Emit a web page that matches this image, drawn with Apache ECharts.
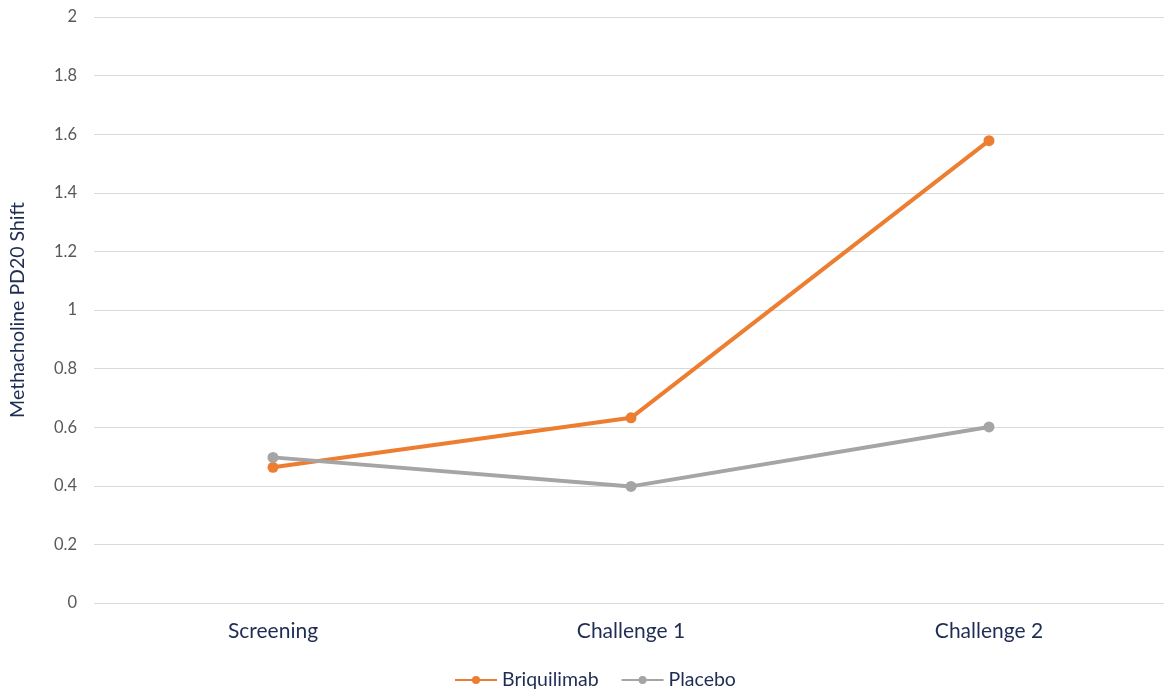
<!DOCTYPE html>
<html><head><meta charset="utf-8">
<script src="https://cdn.jsdelivr.net/npm/echarts@6/dist/echarts.min.js"></script>
<style>html,body{margin:0;padding:0;background:#fff}#c{width:1164px;height:690px}</style>
</head><body><div id="c"></div>
<script>
const categories = ['Screening', 'Challenge 1', 'Challenge 2'];
const briquilimab = [0.463, 0.632, 1.578];
const placebo = [0.497, 0.398, 0.601];
const yTicks = {min: 0, max: 2, interval: 0.2};

const chart = echarts.init(document.getElementById('c'));
const font = 'Lato, "Open Sans", sans-serif';
chart.setOption({
  animation: false,
  textStyle: {fontFamily: font},
  grid: {left: 94, right: -4, top: 17, bottom: 87, containLabel: false, outerBoundsMode: 'none'},
  legend: {
    top: 665, left: 449, itemWidth: 42, itemHeight: 10, itemGap: 22,
    textStyle: {fontSize: 19.5, color: '#1F2D55', fontFamily: font},
    data: ['Briquilimab', 'Placebo']
  },
  xAxis: {
    type: 'category', data: categories, boundaryGap: true,
    axisLine: {show: false}, axisTick: {show: false},
    axisLabel: {fontSize: 21, color: '#1F2D55', margin: 18, fontFamily: font}
  },
  yAxis: {
    type: 'value', min: yTicks.min, max: yTicks.max, interval: yTicks.interval,
    name: 'Methacholine PD20 Shift', nameLocation: 'middle', nameGap: 66, nameRotate: 90,
    nameTextStyle: {fontSize: 19.5, color: '#1F2D55', fontFamily: font},
    axisLine: {show: false}, axisTick: {show: false},
    axisLabel: {fontSize: 16.5, color: '#595959', margin: 17, fontFamily: font,
      formatter: v => String(parseFloat(v.toFixed(1)))},
    splitLine: {lineStyle: {color: '#D9D9D9', width: 1}}
  },
  series: [
    {name: 'Briquilimab', type: 'line', data: briquilimab, symbol: 'circle', symbolSize: 11,
     lineStyle: {color: '#ED7D31', width: 4}, itemStyle: {color: '#ED7D31'}},
    {name: 'Placebo', type: 'line', data: placebo, symbol: 'circle', symbolSize: 11,
     lineStyle: {color: '#A5A5A5', width: 4}, itemStyle: {color: '#A5A5A5'}}
  ]
});
</script></body></html>
